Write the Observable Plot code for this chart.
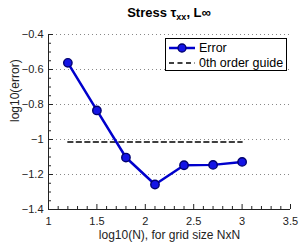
<!DOCTYPE html>
<html>
<head>
<meta charset="utf-8">
<script src="https://cdn.jsdelivr.net/npm/d3@7"></script>
<script src="https://cdn.jsdelivr.net/npm/@observablehq/plot@0.6"></script>
<style>
  body { margin: 0; background: #fff; font-family: "Liberation Sans", Arial, sans-serif; }
  #wrap { position: relative; width: 300px; height: 243px; overflow: hidden; }
  #title { height: 24px; box-sizing: border-box; padding-left: 38px; padding-top: 6px; text-align: center; font-weight: bold; font-size: 13px; color: #000; line-height: 14px; }
  #title sub { font-size: 9px; vertical-align: -3px; line-height: 0; }
  #legend { position: absolute; left: 165px; top: 38px; width: 122px; height: 33px; border: 1px solid #000; background: #fff; font-size: 12.5px; color: #000; box-sizing: border-box; }
  #legend .row { position: absolute; left: 2px; height: 15px; display: flex; align-items: center; }
  #legend svg { display: block; }
  #legend span { margin-left: 3px; }
</style>
</head>
<body>
<div id="wrap">
  <div id="title">Stress τ<sub>xx</sub>, L∞</div>
  <div id="chart"></div>
  <div id="legend">
    <div class="row" style="top:1px">
      <svg width="28" height="12"><line x1="1" y1="6" x2="27" y2="6" stroke="#0000cc" stroke-width="2.5"/><circle cx="14" cy="6" r="4" fill="#1414e6" stroke="#000070" stroke-width="1.3"/></svg>
      <span>Error</span>
    </div>
    <div class="row" style="top:16px">
      <svg width="28" height="12"><line x1="1" y1="6" x2="27" y2="6" stroke="#000" stroke-width="1.5" stroke-dasharray="5,3.5"/></svg>
      <span>0th order guide</span>
    </div>
  </div>
</div>
<script>
// Data
const logN = [1.2, 1.5, 1.8, 2.1, 2.4, 2.7, 3.0];
const logErr = [-0.562, -0.834, -1.103, -1.257, -1.147, -1.145, -1.128];
const guideX = [1.2, 3.0];
const guideY = [-1.014, -1.014];
const xTicks = [1, 1.5, 2, 2.5, 3, 3.5];
const yTicks = [-0.4, -0.6, -0.8, -1, -1.2, -1.4];
const xMinor = [1.1, 1.2, 1.3, 1.4, 1.6, 1.7, 1.8, 1.9, 2.1, 2.2, 2.3, 2.4, 2.6, 2.7, 2.8, 2.9, 3.1, 3.2, 3.3, 3.4];
const yMinor = [-0.45, -0.5, -0.55, -0.65, -0.7, -0.75, -0.85, -0.9, -0.95, -1.05, -1.1, -1.15, -1.25, -1.3, -1.35];

const errData = logN.map((x, i) => ({x, y: logErr[i]}));
const guideData = guideX.map((x, i) => ({x, y: guideY[i]}));

const W = 300, H = 219, mL = 48, mR = 10, mT = 10, mB = 34;
const fw = W - mL - mR, fh = H - mT - mB;

const chart = Plot.plot({
  width: W, height: H,
  marginLeft: mL, marginRight: mR, marginTop: mT, marginBottom: mB,
  style: {fontFamily: '"Liberation Sans", Arial, sans-serif', fontSize: "11px", color: "#222", background: "#fff"},
  x: {domain: [1, 3.5]},
  y: {domain: [-1.4, -0.4]},
  marks: [
    Plot.ruleY(yTicks.slice(0, 5), {stroke: "#888", strokeDasharray: "1,3", strokeWidth: 1}),
    // inward ticks
    Plot.ruleX(xTicks, {insetTop: fh - 5, stroke: "#222"}),
    Plot.ruleX(xMinor, {insetTop: fh - 3, stroke: "#222"}),
    Plot.ruleY(yTicks, {insetRight: fw - 5, stroke: "#222"}),
    Plot.ruleY(yMinor, {insetRight: fw - 3, stroke: "#222"}),
    Plot.ruleX([1], {stroke: "#222"}),
    Plot.ruleY([-1.4], {stroke: "#222"}),
    Plot.axisX(xTicks, {tickSize: 0, tickPadding: 8, label: null, tickFormat: d => String(d)}),
    Plot.axisY(yTicks, {tickSize: 0, tickPadding: 5, label: null, tickFormat: d => (d < 0 ? "\u2212" : "") + String(Math.abs(d))}),
    Plot.line(guideData, {x: "x", y: "y", stroke: "#000", strokeWidth: 1.5, strokeDasharray: "5,3.5"}),
    Plot.line(errData, {x: "x", y: "y", stroke: "#0000cc", strokeWidth: 2.5}),
    Plot.dot(errData, {x: "x", y: "y", r: 4.2, fill: "#1414e6", stroke: "#000070", strokeWidth: 1.4}),
    Plot.text(["log10(N), for grid size NxN"], {frameAnchor: "bottom", dy: 29, fontSize: 12, fill: "#222"}),
    Plot.text(["log10(error)"], {frameAnchor: "left", rotate: -90, dx: -33, fontSize: 12, fill: "#222"})
  ]
});
document.getElementById("chart").appendChild(chart);
</script>
</body>
</html>
